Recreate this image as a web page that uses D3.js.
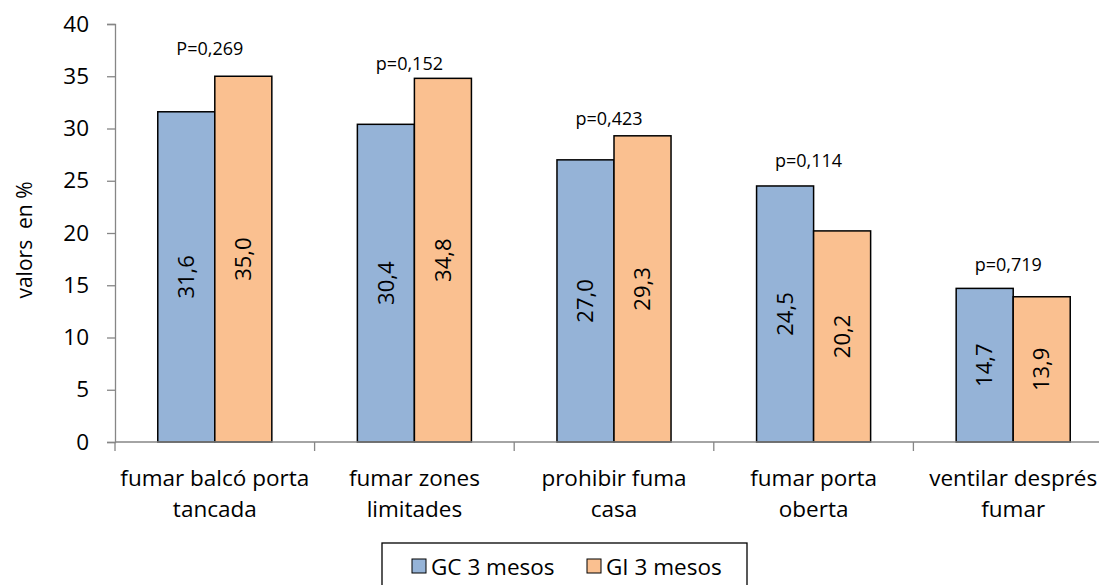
<!DOCTYPE html>
<html>
<head>
<meta charset="utf-8">
<title>valors en %</title>
<style>
  body { margin: 0; background: #fff; }
  text { font-family: "Open Sans", "Noto Sans", sans-serif; fill: #000; }
</style>
</head>
<body>
<div id="chart"></div>
<script src="https://cdn.jsdelivr.net/npm/d3@7"></script>
<script>
// data
const categories = [
  ["fumar balcó porta", "tancada"],
  ["fumar zones", "limitades"],
  ["prohibir fuma", "casa"],
  ["fumar porta", "oberta"],
  ["ventilar després", "fumar"]
];
const seriesNames = ["GC 3 mesos", "GI 3 mesos"];
const gc = [31.6, 30.4, 27.0, 24.5, 14.7];
const gi = [35.0, 34.8, 29.3, 20.2, 13.9];
const pLabels = ["P=0,269", "p=0,152", "p=0,423", "p=0,114", "p=0,719"];
const pLabelAt = [37.0, 35.6, 30.3, 26.3, 16.4];   // where Excel put each p label (value units)
const yTicks = [0, 5, 10, 15, 20, 25, 30, 35, 40];
const colors = ["#95B3D7", "#FAC090"];

const w = 1099, h = 585;
const mLeft = 115, mTop = 24, mBottom = 442, mRight = 115 + 5 * 199.6;

const svg = d3.select("#chart").append("svg")
  .attr("width", w).attr("height", h);

const x = d3.scaleBand().domain(d3.range(categories.length))
  .range([mLeft, mRight]).paddingInner(0).paddingOuter(0);
const x1 = d3.scaleBand().domain([0, 1])
  .range([0, x.bandwidth()]).paddingOuter(0.75).paddingInner(0);
const y = d3.scaleLinear().domain([0, 40]).range([mBottom, mTop]);

// y axis
const yAxis = svg.append("g").attr("transform", "translate(" + mLeft + ",0)")
  .call(d3.axisLeft(y).tickValues(yTicks).tickSize(8).tickPadding(18));
yAxis.select(".domain").attr("stroke", "#868686").attr("stroke-width", 1.3);
yAxis.selectAll(".tick line").attr("stroke", "#868686").attr("stroke-width", 1.3);
yAxis.selectAll(".tick text").attr("font-size", "22.5px")
  .attr("font-family", "'Open Sans', sans-serif").attr("fill", "#000");

// bars
const rows = categories.map((c, i) => [gc[i], gi[i]]);
const groups = svg.selectAll("g.grp").data(rows).enter().append("g")
  .attr("class", "grp")
  .attr("transform", (d, i) => "translate(" + x(i) + ",0)");

groups.selectAll("rect").data(d => d).enter().append("rect")
  .attr("x", (d, j) => x1(j))
  .attr("y", d => y(d))
  .attr("width", x1.bandwidth())
  .attr("height", d => y(0) - y(d))
  .attr("fill", (d, j) => colors[j])
  .attr("stroke", "#000")
  .attr("stroke-width", 1.5);

groups.selectAll("text.val").data(d => d).enter().append("text")
  .attr("class", "val")
  .attr("transform", (d, j) => "translate(" + (x1(j) + x1.bandwidth() / 2) + "," + (y(d) + y(0)) / 2 + ") rotate(-90)")
  .attr("text-anchor", "middle")
  .attr("dy", "0.35em")
  .attr("font-size", "22px")
  .text(d => d.toFixed(1).replace(".", ","));

// x axis
const xAxisG = svg.append("g");
xAxisG.append("line")
  .attr("x1", mLeft).attr("x2", mRight)
  .attr("y1", mBottom).attr("y2", mBottom)
  .attr("stroke", "#868686").attr("stroke-width", 1.3);
xAxisG.selectAll("line.tk").data(d3.range(categories.length + 1)).enter().append("line")
  .attr("class", "tk")
  .attr("x1", i => mLeft + i * x.bandwidth()).attr("x2", i => mLeft + i * x.bandwidth())
  .attr("y1", mBottom).attr("y2", mBottom + 9)
  .attr("stroke", "#868686").attr("stroke-width", 1.3);

const catText = xAxisG.selectAll("text.cat").data(categories).enter().append("text")
  .attr("class", "cat")
  .attr("x", (d, i) => x(i) + x.bandwidth() / 2)
  .attr("y", 486)
  .attr("text-anchor", "middle")
  .attr("font-size", "22.5px");
catText.selectAll("tspan").data(d => d).enter().append("tspan")
  .attr("x", function () { return d3.select(this.parentNode).attr("x"); })
  .attr("dy", (d, k) => k === 0 ? 0 : 31)
  .text(d => d);

// p labels
svg.selectAll("text.p").data(pLabels).enter().append("text")
  .attr("class", "p")
  .attr("x", (d, i) => x(i) + x.bandwidth() / 2 - 5)
  .attr("y", (d, i) => y(pLabelAt[i]))
  .attr("text-anchor", "middle")
  .attr("font-size", "18px")
  .text(d => d);

// y title
svg.append("text")
  .attr("transform", "translate(32,240) rotate(-90)")
  .attr("text-anchor", "middle")
  .attr("font-size", "21px")
  .style("white-space", "pre")
  .text("valors  en %");

// legend
const leg = svg.append("g");
leg.append("rect")
  .attr("x", 382).attr("y", 543).attr("width", 365).attr("height", 60)
  .attr("fill", "#fff").attr("stroke", "#000").attr("stroke-width", 1.3);
const items = leg.selectAll("g.item").data(seriesNames).enter().append("g")
  .attr("class", "item")
  .attr("transform", (d, i) => "translate(" + (412 + i * 175) + ",559)");
items.append("rect")
  .attr("width", 14).attr("height", 14)
  .attr("fill", (d, i) => colors[i])
  .attr("stroke", "#000").attr("stroke-width", 1);
items.append("text")
  .attr("x", 19).attr("y", 16)
  .attr("font-size", "22.5px")
  .text(d => d);
</script>
</body>
</html>
